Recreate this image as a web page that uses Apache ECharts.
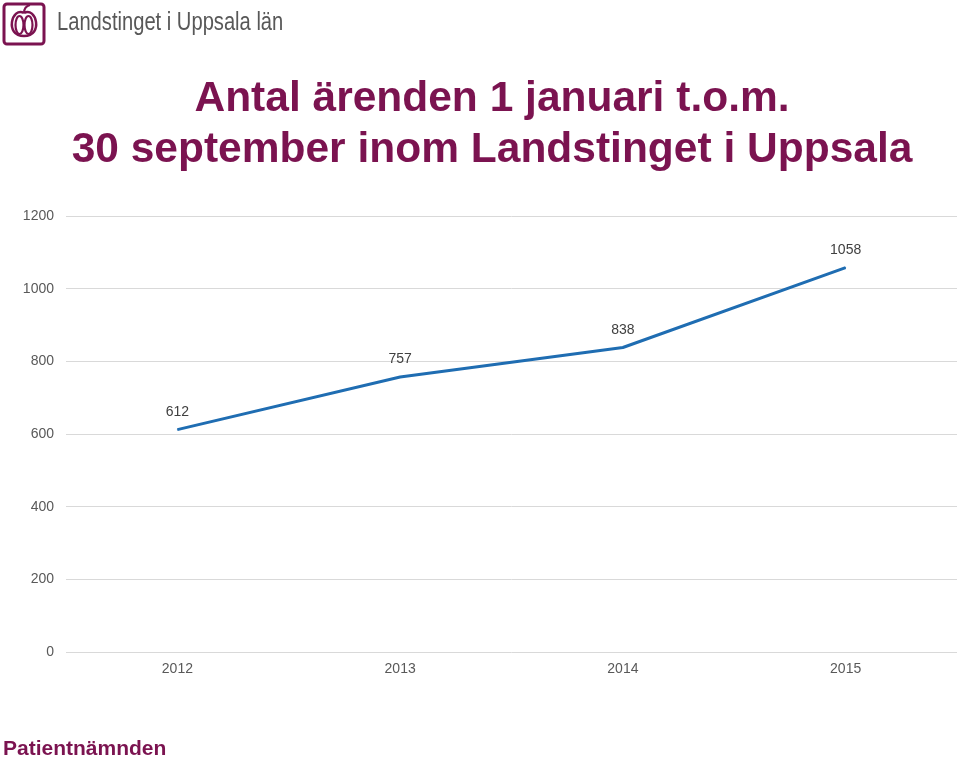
<!DOCTYPE html>
<html><head><meta charset="utf-8">
<script src="https://cdn.jsdelivr.net/npm/echarts@6/dist/echarts.min.js"></script>
<style>html,body{margin:0;padding:0;background:#fff}#c{width:960px;height:758px}</style>
</head><body><div id="c"></div>
<script>
const categories = ['2012', '2013', '2014', '2015'];
const values = [612, 757, 838, 1058];
const yTicks = [0, 200, 400, 600, 800, 1000, 1200];
const titleLines = ['Antal ärenden 1 januari t.o.m.', '30 september inom Landstinget i Uppsala'];
const purple = '#7b1350';
const lineColor = '#1f6db2';
const chart = echarts.init(document.getElementById('c'));
chart.setOption({
  backgroundColor: '#fff',
  animation: false,
  title: {
    text: titleLines.join('\n'),
    left: 487,
    textAlign: 'center',
    top: 69,
    textStyle: { fontFamily: 'Liberation Sans', fontSize: 42.5, fontWeight: 'bold', color: purple, lineHeight: 51 }
  },
  grid: { left: 66, right: 3, top: 216, bottom: 106, containLabel: false },
  xAxis: {
    type: 'category', data: categories,
    axisLine: { show: false }, axisTick: { show: false },
    axisLabel: { fontFamily: 'Liberation Sans', fontSize: 14, color: '#595959', margin: 10 }
  },
  yAxis: {
    type: 'value', min: yTicks[0], max: yTicks[yTicks.length - 1], interval: 200,
    axisLabel: { fontFamily: 'Liberation Sans', fontSize: 14, color: '#595959', margin: 12, formatter: v => String(v) },
    splitLine: { lineStyle: { color: '#d9d9d9', width: 1 } }
  },
  series: [{
    type: 'line', data: values, symbol: 'circle', symbolSize: 1, showSymbol: true,
    itemStyle: { color: lineColor },
    lineStyle: { color: lineColor, width: 3 },
    label: { show: true, position: 'top', distance: 10, fontFamily: 'Liberation Sans', fontSize: 14, color: '#404040' }
  }],
  graphic: [
    { type: 'rect', shape: { x: 4, y: 4, width: 40, height: 40, r: 3 }, style: { fill: 'none', stroke: purple, lineWidth: 3 } },
    { type: 'bezierCurve', shape: { x1: 24, y1: 13, cpx1: 12, cpy1: 6, cpx2: 4, cpy2: 36, x2: 24, y2: 36 }, style: { fill: 'none', stroke: purple, lineWidth: 2.5 } },
    { type: 'bezierCurve', shape: { x1: 24, y1: 13, cpx1: 36, cpy1: 6, cpx2: 44, cpy2: 36, x2: 24, y2: 36 }, style: { fill: 'none', stroke: purple, lineWidth: 2.5 } },
    { type: 'ellipse', shape: { cx: 19.5, cy: 25, rx: 4, ry: 9 }, style: { fill: 'none', stroke: purple, lineWidth: 2.2 } },
    { type: 'ellipse', shape: { cx: 28.5, cy: 25, rx: 4, ry: 9 }, style: { fill: 'none', stroke: purple, lineWidth: 2.2 } },
    { type: 'bezierCurve', shape: { x1: 24, y1: 13, cpx1: 24, cpy1: 9, cpx2: 26, cpy2: 6, x2: 30, y2: 5 }, style: { fill: 'none', stroke: purple, lineWidth: 2 } },
    { type: 'text', x: 57, y: 10, scaleX: 0.775, style: { text: 'Landstinget i Uppsala län', fontFamily: 'Liberation Sans', fontSize: 26, fill: '#585858' } },
    { type: 'text', left: 3, top: 739, style: { text: 'Patientnämnden', fontFamily: 'Liberation Sans', fontSize: 21, fontWeight: 'bold', fill: purple } }
  ]
});
</script></body></html>
